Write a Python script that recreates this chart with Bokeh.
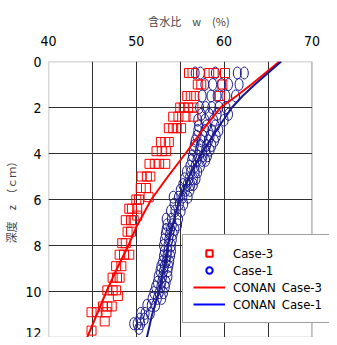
from bokeh.plotting import figure
from bokeh.models import FixedTicker, Legend, LegendItem, ColumnDataSource, BoxAnnotation
from bokeh.embed import file_html
from bokeh.resources import INLINE

# ---- data ----
case3_z = [0.5, 0.5, 0.5, 0.5, 0.5,
           1.0, 1.0, 1.0,
           1.5, 1.5, 1.5, 1.5,
           2.0, 2.0, 2.0, 2.0,
           2.4, 2.4, 2.4, 2.4,
           2.9, 2.9, 2.9, 2.9,
           3.5, 3.5, 3.5,
           3.9, 3.9, 3.9,
           4.45, 4.45, 4.45, 4.45,
           5.0, 5.0, 5.0,
           5.5, 5.5, 5.9,
           6.0, 6.0,
           6.4, 6.4, 6.4,
           6.7,
           6.9, 6.9, 6.9,
           7.4, 7.4,
           7.9, 7.9,
           8.4, 8.4, 8.4,
           8.9, 8.9,
           9.4, 9.4, 9.4,
           9.95, 9.95, 9.95,
           10.2,
           10.65, 10.65, 10.65,
           10.9, 10.9, 10.9,
           11.3, 11.7]
case3_w = [56.0, 56.4, 58.3, 58.8, 60.1,
           57.0, 57.4, 59.8,
           55.8, 56.2, 56.6, 59.5,
           55.0, 55.4, 55.9, 56.5,
           54.2, 54.8, 55.6, 56.5,
           53.7, 54.2, 54.6, 55.1,
           52.8, 53.3, 53.7,
           52.3, 52.9, 53.4,
           51.5, 52.1, 52.6, 53.3,
           50.6, 51.2, 51.6,
           50.5, 51.1, 51.4,
           50.0, 50.3,
           49.2, 49.5, 50.1,
           50.1,
           48.8, 49.4, 49.7,
           49.0, 49.4,
           48.4, 48.8,
           48.1, 48.6, 49.2,
           47.7, 48.3,
           47.3, 47.8, 48.1,
           46.7, 47.3, 47.7,
           47.9,
           46.2, 46.7, 47.2,
           44.9, 45.5, 46.6,
           46.4, 44.9]

case1_z = [0.5, 0.5, 0.5, 0.5, 0.5,
           1.0, 1.0, 1.0, 1.0, 1.0,
           1.5, 1.5, 1.5, 1.5, 1.5,
           2.0, 2.0, 2.0, 2.0, 2.0,
           2.3, 2.3, 2.3, 2.3,
           2.55, 2.55, 2.55, 2.55,
           2.8, 2.8, 2.8,
           3.0, 3.0, 3.0, 3.0,
           3.25, 3.25, 3.25, 3.25,
           3.45, 3.45, 3.45, 3.45,
           3.65, 3.65, 3.65, 3.65,
           3.85, 3.85, 3.85, 3.85,
           4.1, 4.1, 4.1, 4.1,
           4.3, 4.3, 4.3, 4.3,
           4.55, 4.55, 4.55,
           4.8, 4.8, 4.8, 4.8,
           5.1, 5.1, 5.1, 5.1,
           5.35, 5.35, 5.35, 5.35,
           5.6, 5.6, 5.6,
           5.9, 5.9, 5.9, 5.9,
           6.2, 6.2, 6.2,
           6.5, 6.5, 6.5,
           6.85, 6.85, 6.85,
           7.1, 7.1, 7.1,
           7.3, 7.3, 7.3,
           7.5, 7.5, 7.5,
           7.75, 7.75, 7.75,
           8.0, 8.0, 8.0,
           8.25, 8.25, 8.25,
           8.45, 8.45, 8.45,
           8.7, 8.7, 8.7,
           8.9, 8.9, 8.9,
           9.1, 9.1, 9.1,
           9.35, 9.35, 9.35,
           9.6, 9.6, 9.6,
           9.8, 9.8, 9.8,
           10.05, 10.05, 10.05,
           10.3, 10.3, 10.3,
           10.6, 10.6, 10.6,
           10.95, 10.95, 10.95,
           11.2, 11.2,
           11.4, 11.4, 11.4,
           11.6]
case1_w = [56.7, 57.3, 59.0, 61.5, 62.3,
           57.8, 58.7, 59.7, 60.5, 61.7,
           57.5, 58.5, 59.2, 60.2, 61.3,
           57.2, 57.9, 58.6, 59.4, 60.2,
           57.4, 58.3, 59.2, 60.5,
           57.0, 57.8, 58.8, 60.0,
           57.1, 58.0, 59.0,
           57.0, 57.8, 58.6, 59.4,
           56.9, 57.6, 58.4, 59.1,
           56.7, 57.4, 58.2, 58.9,
           56.6, 57.3, 58.0, 58.6,
           56.5, 57.2, 57.9, 58.4,
           56.4, 57.0, 57.6, 58.1,
           56.3, 56.9, 57.5, 57.9,
           56.1, 56.7, 57.3,
           55.7, 56.2, 56.7, 57.0,
           55.5, 56.0, 56.5, 56.8,
           55.3, 55.8, 56.2, 56.5,
           55.0, 55.6, 56.1,
           54.2, 54.8, 55.3, 55.9,
           54.3, 54.9, 55.4,
           53.9, 54.4, 55.1,
           53.4, 54.0, 54.8,
           53.5, 54.1, 54.7,
           53.4, 53.9, 54.4,
           53.3, 53.8, 54.2,
           53.2, 53.7, 54.1,
           53.1, 53.6, 54.0,
           53.2, 53.6, 54.0,
           53.1, 53.5, 53.9,
           53.0, 53.4, 53.8,
           52.8, 53.2, 53.7,
           52.7, 53.1, 53.6,
           52.5, 53.0, 53.6,
           52.4, 52.9, 53.4,
           52.2, 52.8, 53.3,
           52.0, 52.6, 53.1,
           51.8, 52.4, 52.9,
           51.2, 51.7, 52.2,
           50.5, 51.0, 51.6,
           50.4, 50.9,
           49.7, 50.1, 50.5,
           50.3]

conan3_z = [0.0, 0.5, 1.0, 1.5, 2.0, 3.0, 4.0, 5.0, 6.0, 7.2, 8.0, 9.0, 10.0, 11.0, 12.0]
conan3_w = [66.3, 64.7, 63.1, 61.4, 59.6, 57.5, 55.6, 53.6, 51.7, 50.0, 49.1, 47.8, 46.6, 45.5, 44.4]

conan1_z = [0.0, 0.5, 1.0, 1.5, 2.0, 3.0, 4.0, 5.0, 6.0, 7.0, 8.0, 9.0, 10.0, 11.0, 12.0]
conan1_w = [66.5, 65.0, 63.5, 62.1, 60.9, 59.1, 57.4, 56.0, 54.9, 54.2, 53.6, 53.1, 52.6, 51.8, 51.2]

x_min, x_max = 40, 70
y_min, y_max = 0, 12
x_ticks = [40, 50, 60, 70]
x_grid = [45, 50, 55, 60, 65]
y_ticks = [0, 2, 4, 6, 8, 10, 12]

RED = "#ff0000"
NAVY = "#1a1a8c"
BLUE = "#0000ff"
FONT = "DejaVu Sans Condensed"

# frame is widened past x=70 so the legend may run to the right edge, as in the reference
p = figure(width=329, height=337, x_range=(x_min, 72.0), y_range=(y_max, y_min),
           x_axis_location="above", output_backend="svg", toolbar_location=None,
           min_border_left=43, min_border_right=0, min_border_top=61, min_border_bottom=0)

p.background_fill_color = "white"
p.border_fill_color = "white"
p.outline_line_color = None

p.xaxis.ticker = FixedTicker(ticks=x_ticks)
p.yaxis.ticker = FixedTicker(ticks=y_ticks)
p.xgrid.ticker = FixedTicker(ticks=x_grid)
p.ygrid.ticker = FixedTicker(ticks=y_ticks)
for g in (p.xgrid, p.ygrid):
    g.grid_line_color = "#303030"
    g.grid_line_width = 1

for ax in (p.xaxis, p.yaxis):
    ax.axis_line_color = None
    ax.major_tick_line_color = None
    ax.minor_tick_line_color = None
    ax.major_tick_out = 0
    ax.major_tick_in = 0
    ax.minor_tick_out = 0
    ax.minor_tick_in = 0
    ax.major_label_text_font = FONT
    ax.major_label_text_font_size = "14px"
    ax.major_label_text_color = "black"
    ax.axis_label_text_font = "Noto Sans CJK JP"
    ax.axis_label_text_font_size = "11px"
    ax.axis_label_text_font_style = "normal"
    ax.axis_label_text_color = "#444444"

p.xaxis.axis_label = "含水比　w　(%)"
p.xaxis.major_label_standoff = 16
p.xaxis.axis_label_standoff = 4
p.yaxis.axis_label = "深度　z　（ｃｍ）"
p.yaxis.major_label_standoff = 7
p.yaxis.axis_label_standoff = 3

src3 = ColumnDataSource(dict(w=case3_w, z=case3_z))
src1 = ColumnDataSource(dict(w=case1_w, z=case1_z))

p.ellipse(x="w", y="z", source=src1, width=8, height=12,
          width_units="screen", height_units="screen",
          fill_color=None, line_color=NAVY, line_width=1)
p.scatter(x="w", y="z", source=src3, marker="square", size=9,
          fill_color=None, line_color=RED, line_width=1)

p.line(conan3_w, conan3_z, line_color=RED, line_width=2)
p.line(conan1_w, conan1_z, line_color=NAVY, line_width=2)

# blank out the strip right of x=70 and draw the plot border
p.add_layout(BoxAnnotation(left=x_max, fill_color="white", fill_alpha=1, line_color=None))
p.add_layout(BoxAnnotation(left=x_min, right=x_max, top=y_min, bottom=y_max,
                           fill_alpha=0, line_color="black", line_width=1.5))

# legend-only renderers (hidden, same data)
lg3 = p.scatter(x="w", y="z", source=src3, marker="square", fill_color=None,
                line_color=RED, line_width=2, visible=False)
lg1 = p.scatter(x="w", y="z", source=src1, marker="circle", fill_color=None,
                line_color=BLUE, line_width=2, visible=False)
lgl3 = p.line(conan3_w, conan3_z, line_color=RED, line_width=2, visible=False)
lgl1 = p.line(conan1_w, conan1_z, line_color=BLUE, line_width=2, visible=False)

legend = Legend(items=[
    LegendItem(label="Case-3", renderers=[lg3]),
    LegendItem(label="Case-1", renderers=[lg1]),
    LegendItem(label="CONAN\u2002Case-3", renderers=[lgl3]),
    LegendItem(label="CONAN\u2002Case-1", renderers=[lgl1]),
], location=(134, 14))
legend.margin = 0
legend.padding = 10
legend.spacing = 1
legend.glyph_width = 32
legend.glyph_height = 16
legend.label_height = 16
legend.label_standoff = 8
legend.label_text_font = FONT
legend.label_text_font_size = "13px"
legend.label_text_color = "black"
legend.border_line_color = "#444444"
legend.border_line_width = 1.5
legend.background_fill_color = "white"
legend.background_fill_alpha = 1
p.add_layout(legend, "center")

open("out.html", "w").write(file_html(p, INLINE))
